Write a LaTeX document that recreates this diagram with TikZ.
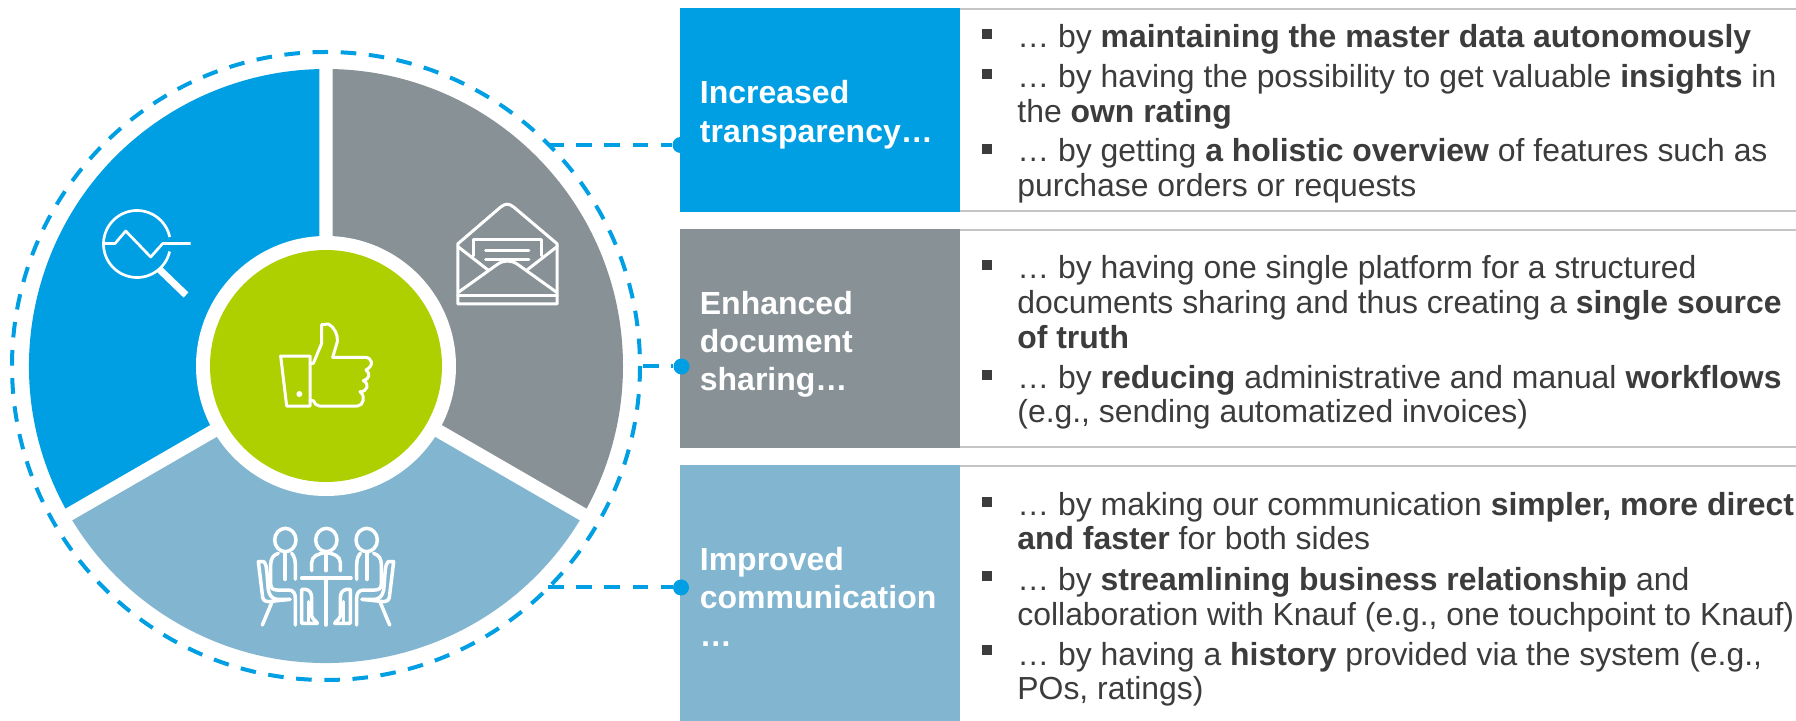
\documentclass[tikz,border=0pt]{standalone}
\usepackage{fontspec}
\setmainfont{Liberation Sans}
\definecolor{kblue}{HTML}{009FE3}
\definecolor{kgrey}{HTML}{879196}
\definecolor{klight}{HTML}{82B6D0}
\definecolor{kgreen}{HTML}{AECF00}
\definecolor{ktext}{HTML}{3C3C3C}
\definecolor{krule}{HTML}{C4C4C4}
\tikzset{
  x=0.5pt,y=-0.5pt,
  headtext/.style={anchor=base west,inner sep=0pt,text=white,font=\fontsize{16}{19}\selectfont\bfseries},
  linetext/.style={anchor=base west,inner sep=0pt,text=ktext,font=\fontsize{15.95}{19}\selectfont},
  bulletmark/.style={fill=ktext,draw=none,inner sep=0pt,minimum size=5pt},
  dashline/.style={draw=kblue,line width=2pt,dash pattern=on 7.8pt off 6.3pt},
  icon/.style={draw=white,line width=1.5pt,line join=round,line cap=round,fill=none},
  dot/.style={circle,fill=kblue,draw=none,inner sep=0pt,minimum size=8pt}
}
\newcommand{\seatedperson}{%
  \draw (136,90) ellipse[x radius=32,y radius=35];
  \draw (115,130) .. controls (100,135) and (92,145) .. (92,165) -- (92,222) .. controls (92,235) and (100,240) .. (112,240) -- (145,240) .. controls (160,240) and (166,250) .. (166,265) -- (166,345);
  \draw (155,130) .. controls (162,138) and (166,148) .. (166,165) -- (166,208);
  \draw (135,130) -- (135,208);
  \draw (72,155) -- (55,155) -- (68,262) .. controls (70,272) and (78,275) .. (85,275) -- (150,268);
  \draw (72,155) .. controls (82,165) and (80,190) .. (85,240) .. controls (88,258) and (100,268) .. (112,268) -- (150,268);
  \draw (95,278) -- (67,345);
  \draw (185,238) -- (196,238) .. controls (210,240) and (215,250) .. (215,265) -- (215,318) .. controls (218,328) and (230,335) .. (232,340) -- (185,340) -- (185,238);
  \draw (205,340) -- (205,275);
}
\begin{document}
\begin{tikzpicture}
\useasboundingbox (0,0) rectangle (1796,721);
\fill[white] (0,0) rectangle (1796,721);
% rules and coloured boxes
\draw[krule,line width=1pt] (960,9)--(1796,9) (960,211)--(1796,211) (960,230)--(1796,230) (960,447.5)--(1796,447.5) (960,466)--(1796,466);
\fill[kblue] (680,8) rectangle (960,212);
\fill[kgrey] (680,229) rectangle (960,448);
\fill[klight] (680,465.5) rectangle (960,721);
% pie
\begin{scope}[shift={(326,366)}]
\fill[kgrey] (0,0) -- (0,-297) arc[start angle=-90,end angle=30,radius=297] -- cycle;
\fill[klight] (0,0) -- ({297*cos(30)},{297*sin(30)}) arc[start angle=30,end angle=150,radius=297] -- cycle;
\fill[kblue] (0,0) -- ({-297*cos(30)},{297*sin(30)}) arc[start angle=150,end angle=270,radius=297] -- cycle;
\draw[white,line width=6.7pt] (0,0)--(0,-305) (0,0)--({305*cos(30)},{305*sin(30)}) (0,0)--({-305*cos(30)},{305*sin(30)});
\fill[white] (0,0) circle[radius=130];
\fill[kgreen] (0,0) circle[radius=116];
\draw[dashline] (0,0) circle[radius=314];
\end{scope}
% connectors
\coordinate (c1) at (548,145); \coordinate (c2) at (643,366.5); \coordinate (c3) at (548,587.5);
\node[dot] (d1) at (680.5,145) {};
\node[dot] (d2) at (681.5,366.5) {};
\node[dot] (d3) at (681,587.5) {};
\draw[dashline] (c1)--(d1);
\draw[dashline] (c2)--(d2);
\draw[dashline] (c3)--(d3);
% heads
\node[headtext] (h1a) at (699.5,104) {Increased};
\node[headtext] (h1b) at (699.5,143) {transparency…};
\node[headtext] (h2a) at (699.5,314.5) {Enhanced};
\node[headtext] (h2b) at (699.5,352.5) {document};
\node[headtext] (h2c) at (699.5,390.5) {sharing…};
\node[headtext] (h3a) at (699.5,570.5) {Improved};
\node[headtext] (h3b) at (699.5,608.5) {communication};
\node[headtext] (h3c) at (699.5,646.5) {…};
% bullets
\foreach \i/\y in {a/34,b/74,c/149,d/265,e/375,f/502,g/576,h/650}
  \node[bulletmark] (m\i) at (987,\y) {};
\node[linetext] (t1) at (1017,47.5) {… by \textbf{maintaining the master data autonomously}};
\node[linetext] (t2) at (1017,87.5) {… by having the possibility to get valuable \textbf{insights} in};
\node[linetext] (t3) at (1017,122.5) {the \textbf{own rating}};
\node[linetext] (t4) at (1017,161.5) {… by getting \textbf{a holistic overview} of features such as};
\node[linetext] (t5) at (1017,196.5) {purchase orders or requests};
\node[linetext] (t6) at (1017,279) {… by having one single platform for a structured};
\node[linetext] (t7) at (1017,314) {documents sharing and thus creating a \textbf{single source}};
\node[linetext] (t8) at (1017,349) {\textbf{of truth}};
\node[linetext] (t9) at (1017,389) {… by \textbf{reducing} administrative and manual \textbf{workflows}};
\node[linetext] (t10) at (1017,423) {(e.g., sending automatized invoices)};
\node[linetext] (t11) at (1017,515.5) {… by making our communication \textbf{simpler, more direct}};
\node[linetext] (t12) at (1017,549.5) {\textbf{and faster} for both sides};
\node[linetext] (t13) at (1017,590.5) {… by \textbf{streamlining business relationship} and};
\node[linetext] (t14) at (1017,625.5) {collaboration with Knauf (e.g., one touchpoint to Knauf)};
\node[linetext] (t15) at (1017,665.5) {… by having a \textbf{history} provided via the system (e.g.,};
\node[linetext] (t16) at (1017,699.5) {POs, ratings)};
% magnifier icon
\begin{scope}[icon,line cap=butt,line width=1.35pt]
\draw (137,244) ++(13:33.5) arc[start angle=13,end angle=348,radius=33.5];
\draw (104,243.5) -- (115,243.5) -- (125.7,231) -- (150.7,257) -- (162.7,243.5) -- (190.7,243.5);
\draw[line width=3.5pt] (159,269) -- (186,295);
\end{scope}
% envelope icon
\begin{scope}[icon,shift={(440.5,190.5)},x=0.1667pt,y=-0.1667pt]
\draw (52,160) -- (52,340) -- (350,340) -- (350,160) -- (220,50) .. controls (205,38) and (195,38) .. (180,50) -- cycle;
\draw (100,195) -- (100,147) -- (302,147) -- (302,195);
\draw (135,180) -- (265,180) (135,208) -- (265,208);
\draw (52,168) -- (142,238) (350,168) -- (260,238);
\draw (54,305) -- (170,222) .. controls (190,208) and (212,208) .. (232,222) -- (348,305);
\draw (52,315) -- (350,315);
\end{scope}
% thumb icon
\begin{scope}[icon,shift={(260,310)},x=0.1667pt,y=-0.1667pt]
\draw (62,138) -- (150,138) -- (150,288) -- (80,288) -- cycle;
\fill[white,draw=none] (118,252) circle[radius=9];
\draw (150,160) -- (160,160) -- (185,100) -- (185,44) -- (205,42) .. controls (222,50) and (235,75) .. (232,95) -- (218,142) -- (315,142) .. controls (335,142) and (345,165) .. (318,180) .. controls (332,190) and (328,208) .. (310,212) .. controls (330,222) and (322,245) .. (300,245) .. controls (318,258) and (310,288) .. (292,288) -- (178,288) .. controls (168,288) and (165,280) .. (160,272) -- (150,272);
\end{scope}
% people icon
\begin{scope}[icon,line width=1.75pt,shift={(240,510)},x=0.1667pt,y=-0.1667pt]
\seatedperson
\draw (259,90) ellipse[x radius=32,y radius=35];
\draw (215,182) -- (215,158) .. controls (215,138) and (235,130) .. (258,128) .. controls (280,130) and (301,138) .. (301,158) -- (301,182);
\draw (258,128) -- (258,182);
\draw (185,204) -- (333,204);
\draw (258,204) -- (258,345);
\end{scope}
\begin{scope}[icon,line width=1.75pt,shift={(326,510)},x=-0.1667pt,y=-0.1667pt,shift={(-258,0)}]
\seatedperson
\end{scope}
\end{tikzpicture}
\end{document}
